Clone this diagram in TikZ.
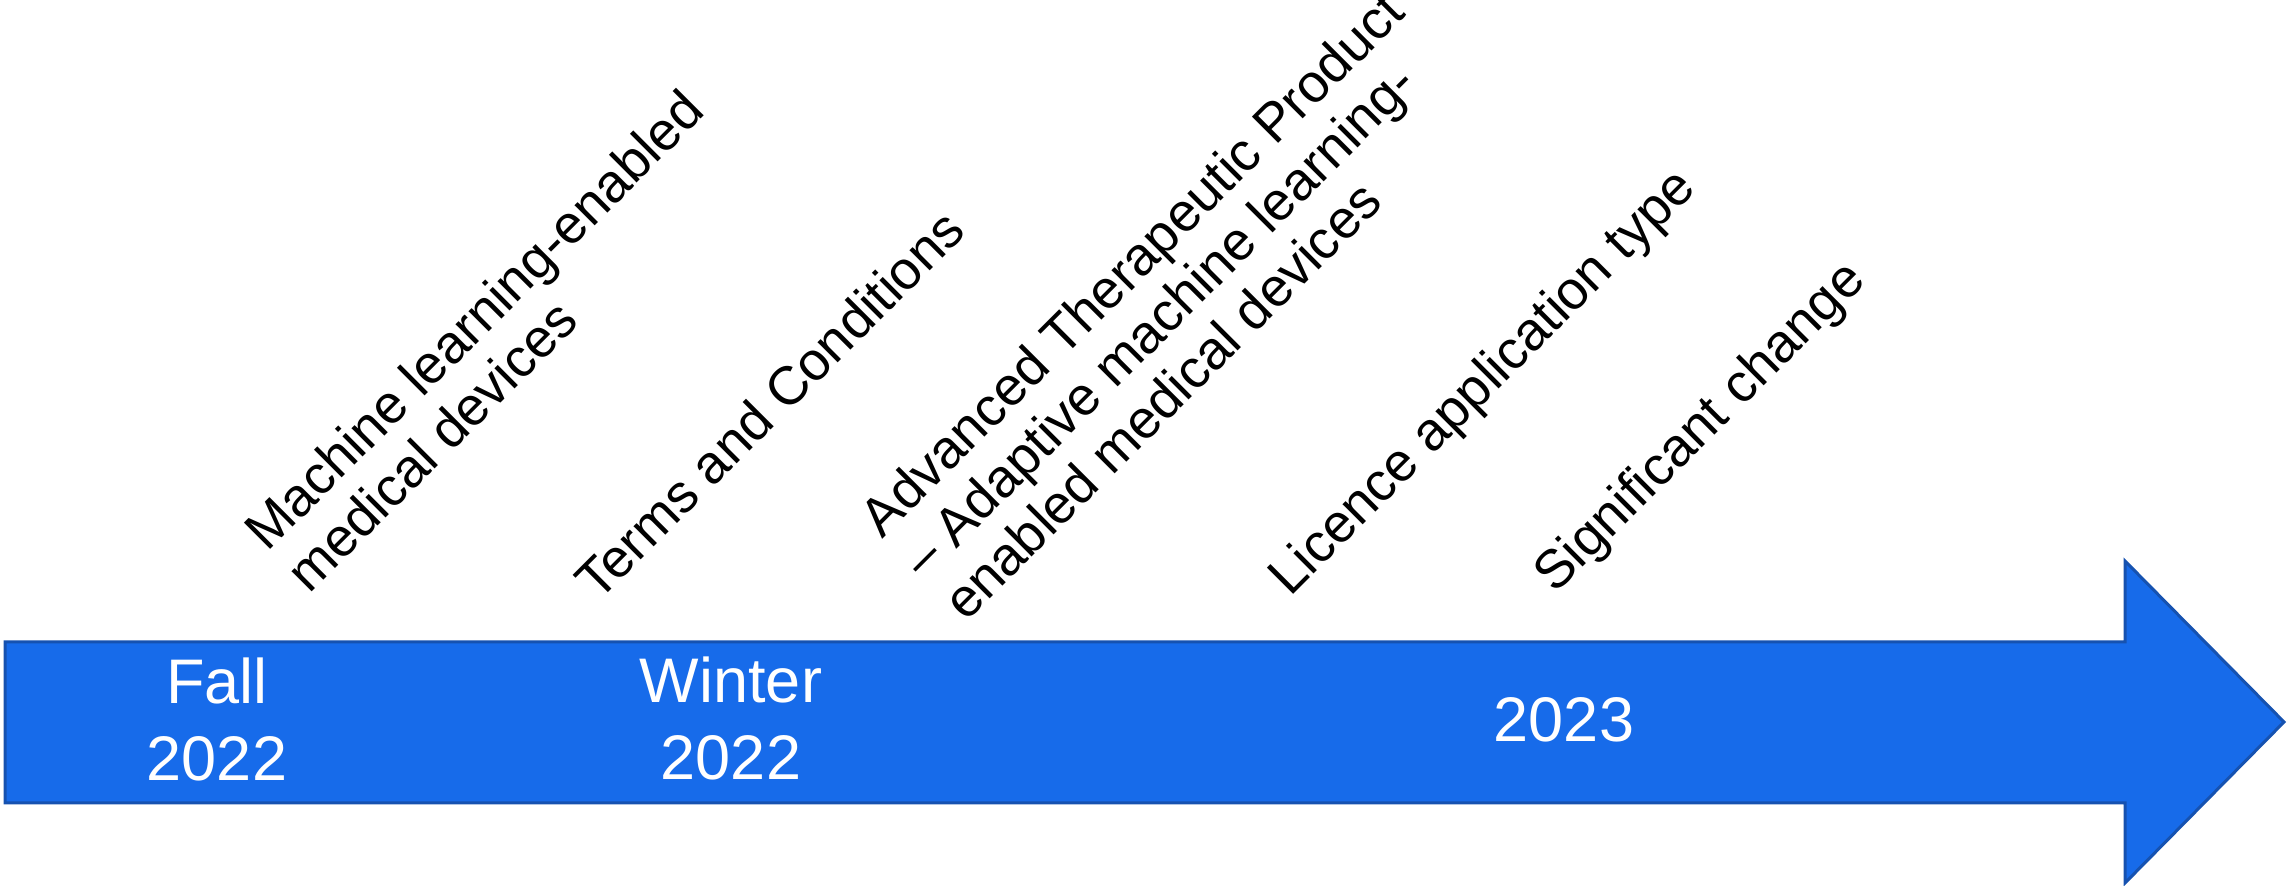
\documentclass[tikz,border=0pt]{standalone}
\usepackage{fontspec}
\setmainfont{Liberation Sans}
\usepackage{xcolor}
\usepackage{tikz}
\usetikzlibrary{positioning}

\definecolor{barblue}{RGB}{23,107,234}
\definecolor{barline}{RGB}{22,82,176}

\tikzset{
  datetext/.style={text=white, align=center, inner sep=0pt,
    font=\fontsize{31.5}{38.5}\selectfont},
  topic/.style={rotate=45, anchor=base west, align=left, inner sep=0pt,
    font=\fontsize{27}{29.5}\selectfont},
}

\begin{document}
\begin{tikzpicture}[x=0.5pt, y=0.5pt]
      \useasboundingbox (0,0) rectangle (2287,886);

      % the timeline arrow
      \draw[fill=barblue, draw=barline, line width=1.5pt]
        (5,244) -- (2125,244) -- (2125,325) -- (2284,164)
        -- (2125,3) -- (2125,83) -- (5,83) -- cycle;

      % periods on the bar (base = last line)
      \node[datetext, anchor=base] (fall) at (217,105) {Fall\\2022};
      \node[datetext, anchor=base] (winter) at (731,106) {Winter\\2022};
      \node[datetext, anchor=base] (year) at (1564,144) {2023};

      % topics above the bar, placed by the start of their last line
      \node[topic] (mlmd) at (309,291) {Machine learning-enabled\\medical devices};
      \node[topic] (terms) at (598,283) {Terms and Conditions};
      \node[topic] (atp) at (966,263) {Advanced Therapeutic Product\\– Adaptive machine learning-\\enabled medical devices};
      \node[topic] (licence) at (1290,288) {Licence application type};
      \node[topic] (sigchange) at (1555,291) {Significant change};

\end{tikzpicture}
\end{document}
